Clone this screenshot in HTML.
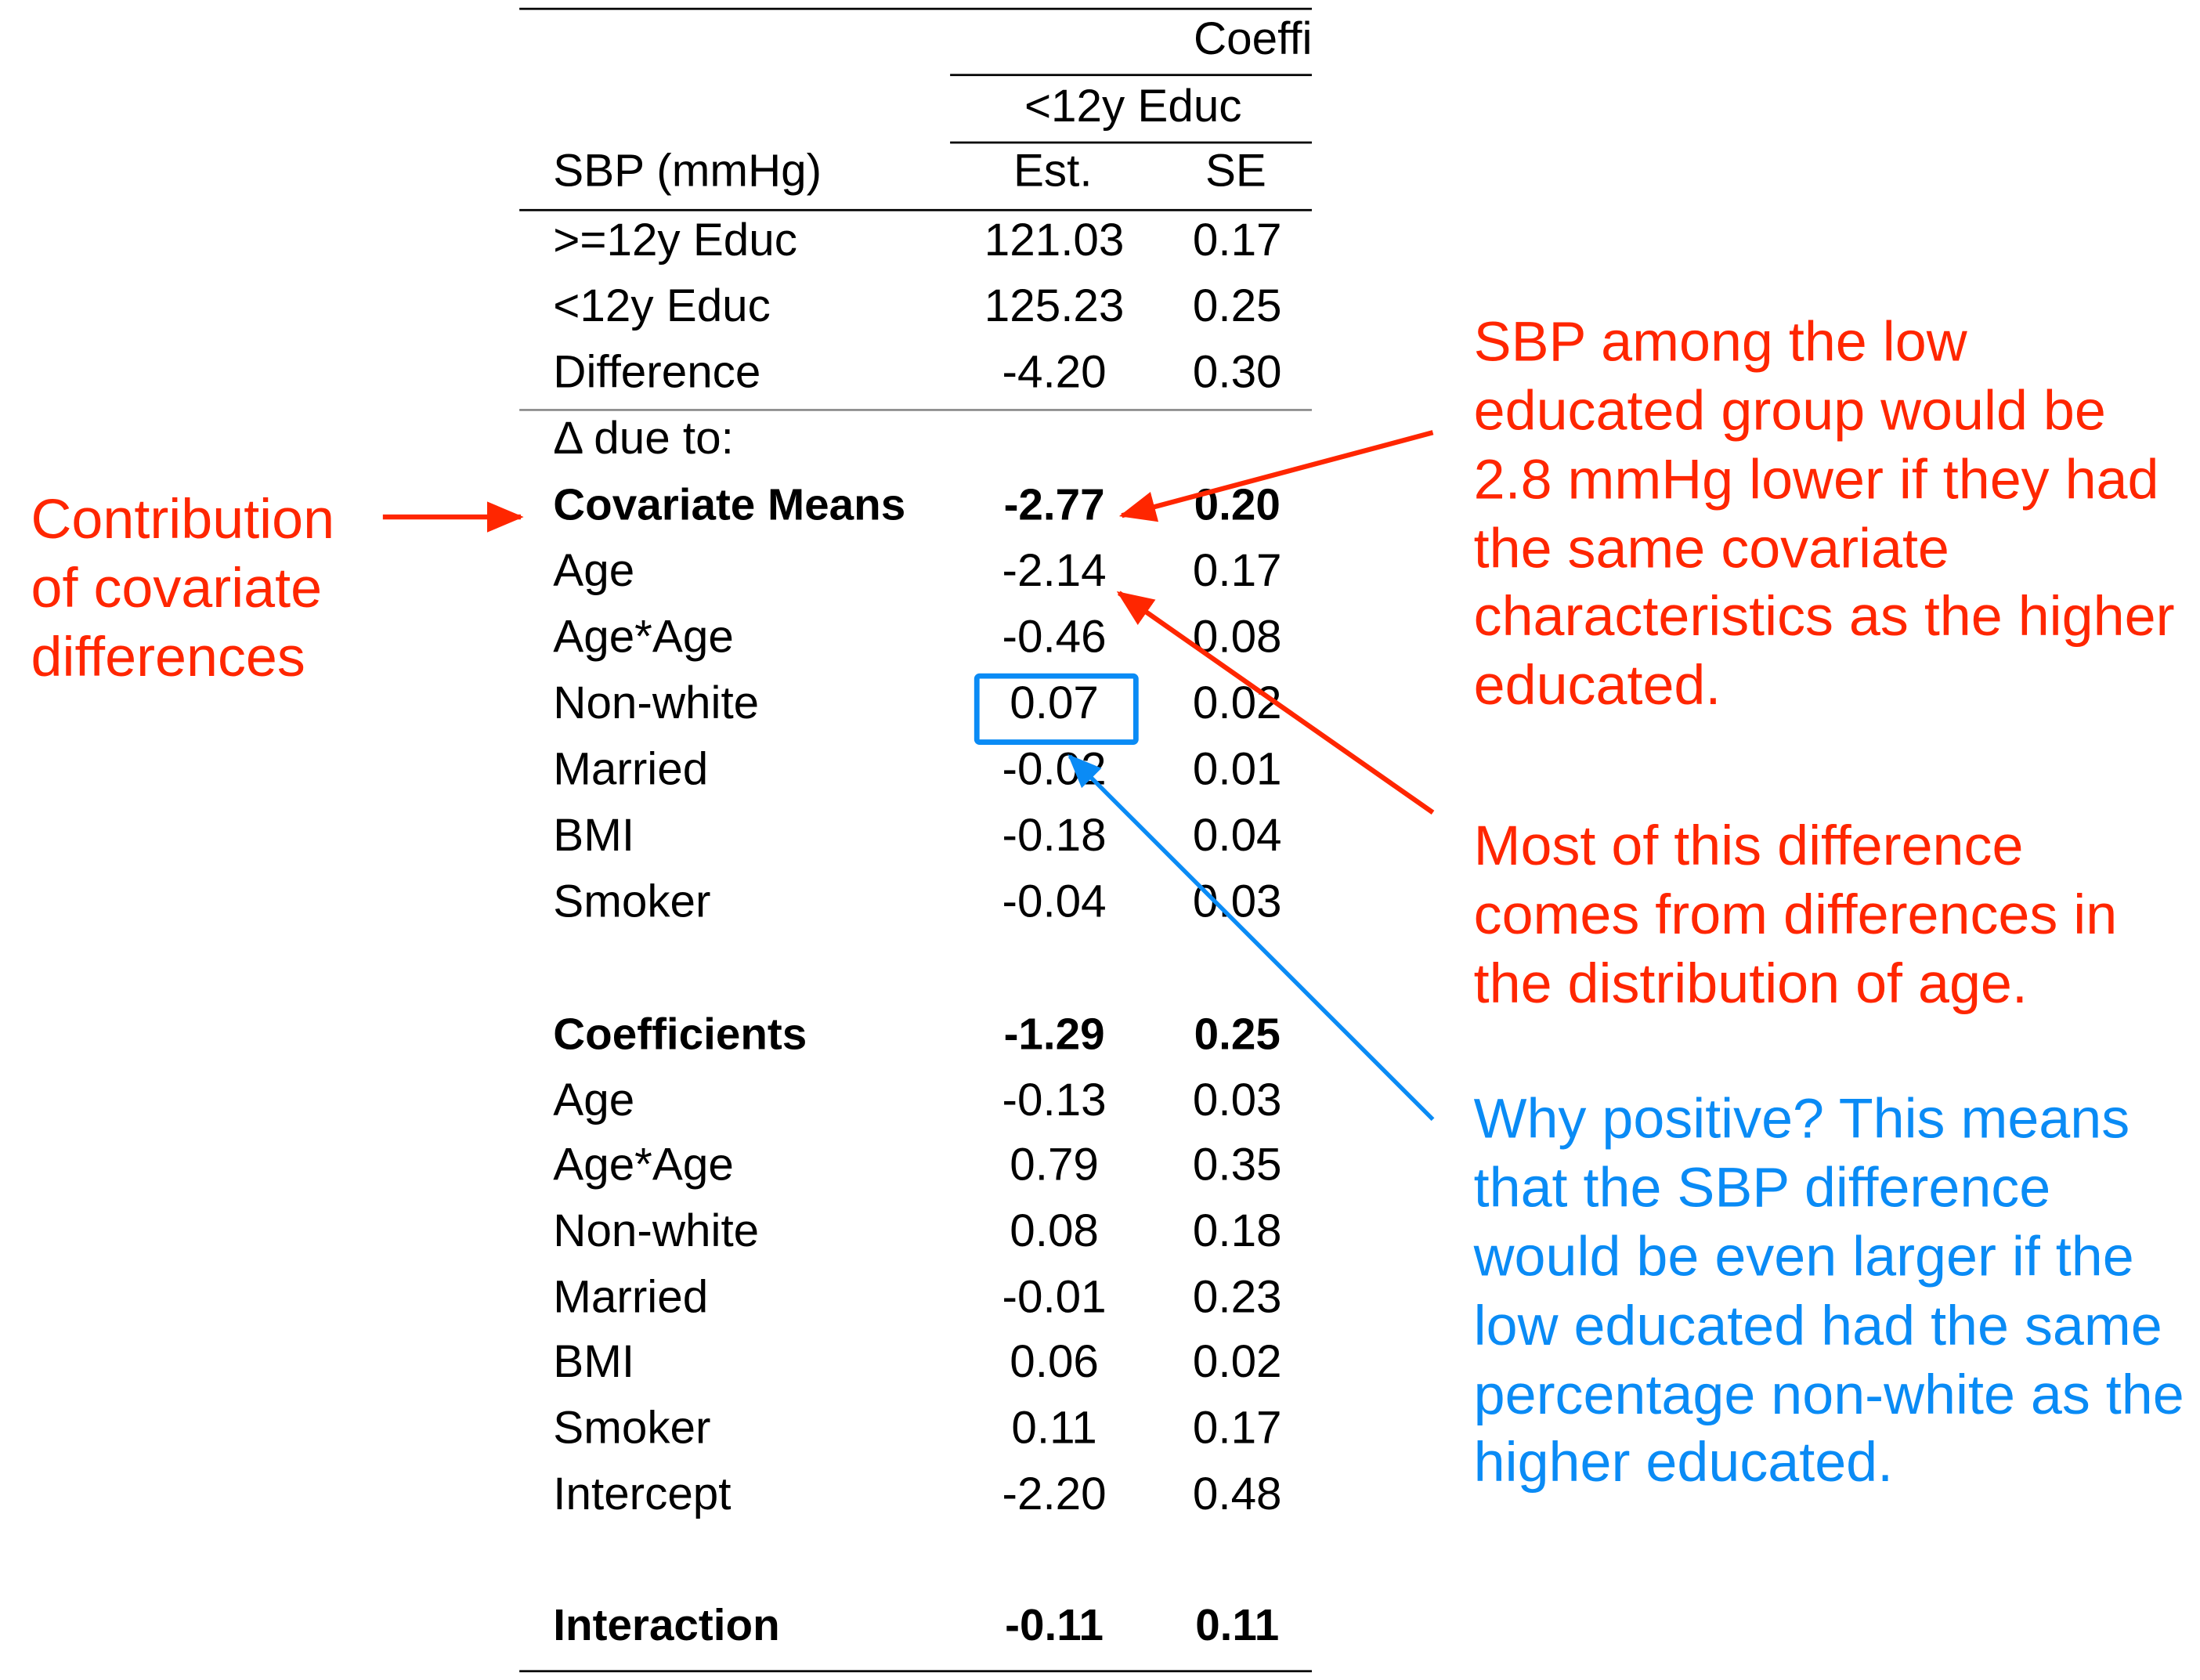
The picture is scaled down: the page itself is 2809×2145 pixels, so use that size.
<!DOCTYPE html>
<html><head><meta charset="utf-8"><style>
html,body{margin:0;padding:0;background:#fff;}
svg{display:block;}
.t{font-family:"Liberation Sans",sans-serif;font-size:32.5px;fill:#000;}
.b{font-weight:bold;font-size:31.5px;}
.r{font-family:"Liberation Sans",sans-serif;font-size:40px;fill:#ff2600;}
.bl{font-family:"Liberation Sans",sans-serif;font-size:40px;fill:#0a8bf5;}
</style></head><body>
<svg id="s" width="2809" height="2145" viewBox="0 0 1563 1193" xmlns="http://www.w3.org/2000/svg">
<defs>
<clipPath id="cl"><rect x="0" y="0" width="932" height="60"/></clipPath>
<marker id="arR" markerWidth="26" markerHeight="22" refX="24" refY="11" orient="auto" markerUnits="userSpaceOnUse"><path d="M0,0 L26,11 L0,22 z" fill="#ff2600"/></marker>
<marker id="arB" markerWidth="24" markerHeight="20" refX="22" refY="10" orient="auto" markerUnits="userSpaceOnUse"><path d="M0,0 L24,10 L0,20 z" fill="#0a8bf5"/></marker>
</defs>
<g stroke="#000" stroke-width="1.5">
<line x1="369" y1="6" x2="932" y2="6"/>
<line x1="675" y1="53" x2="932" y2="53"/>
<line x1="675" y1="101" x2="932" y2="101"/>
<line x1="369" y1="149" x2="932" y2="149"/>
<line x1="369" y1="291" x2="932" y2="291" stroke="#888"/>
<line x1="369" y1="1187" x2="932" y2="1187"/>
</g>
<text class="t" clip-path="url(#cl)" x="848" y="38">Coefficients</text>
<text class="t" x="805" y="86" text-anchor="middle">&lt;12y Educ</text>
<text class="t" x="393" y="132">SBP (mmHg)</text>
<text class="t" x="748" y="132" text-anchor="middle">Est.</text>
<text class="t" x="878" y="132" text-anchor="middle">SE</text>
<g id="rows"></g>
<rect x="694" y="480" width="113" height="47" fill="none" stroke="#0a8bf5" stroke-width="3.8" rx="2"/>
<g>
<text class="r" x="22" y="382">Contribution</text>
<text class="r" x="22" y="431">of covariate</text>
<text class="r" x="22" y="480">differences</text>
</g>
<line x1="272" y1="367" x2="370" y2="367" stroke="#ff2600" stroke-width="3.5" marker-end="url(#arR)"/>
<line x1="1018" y1="307" x2="797" y2="366" stroke="#ff2600" stroke-width="3.5" marker-end="url(#arR)"/>
<line x1="1018" y1="577" x2="795" y2="421" stroke="#ff2600" stroke-width="3.5" marker-end="url(#arR)"/>
<line x1="1018" y1="795" x2="760" y2="537" stroke="#0a8bf5" stroke-width="3" marker-end="url(#arB)"/>
<g>
<text class="r" x="1047" y="256">SBP among the low</text>
<text class="r" x="1047" y="305">educated group would be</text>
<text class="r" x="1047" y="354">2.8 mmHg lower if they had</text>
<text class="r" x="1047" y="403">the same covariate</text>
<text class="r" x="1047" y="451">characteristics as the higher</text>
<text class="r" x="1047" y="500">educated.</text>
</g>
<g>
<text class="r" x="1047" y="614">Most of this difference</text>
<text class="r" x="1047" y="663">comes from differences in</text>
<text class="r" x="1047" y="712">the distribution of age.</text>
</g>
<g>
<text class="bl" x="1047" y="808">Why positive? This means</text>
<text class="bl" x="1047" y="857">that the SBP difference</text>
<text class="bl" x="1047" y="906">would be even larger if the</text>
<text class="bl" x="1047" y="955">low educated had the same</text>
<text class="bl" x="1047" y="1004">percentage non-white as the</text>
<text class="bl" x="1047" y="1052">higher educated.</text>
</g>
</svg>
<script>
const labels=[">=12y Educ","<12y Educ","Difference","Δ due to:","Covariate Means","Age","Age*Age","Non-white","Married","BMI","Smoker","","Coefficients","Age","Age*Age","Non-white","Married","BMI","Smoker","Intercept","","Interaction"];
const est=["121.03","125.23","-4.20","","-2.77","-2.14","-0.46","0.07","-0.02","-0.18","-0.04","","-1.29","-0.13","0.79","0.08","-0.01","0.06","0.11","-2.20","","-0.11"];
const se=["0.17","0.25","0.30","","0.20","0.17","0.08","0.02","0.01","0.04","0.03","","0.25","0.03","0.35","0.18","0.23","0.02","0.17","0.48","","0.11"];
const boldRows=[4,12,21];
const g=document.getElementById('rows');
const NS="http://www.w3.org/2000/svg";
function rowY(i){return 181+47*i-(i>12?Math.round((i-12)*0.3):0);}
function mk(txt,x,y,anchor,bold){
  const t=document.createElementNS(NS,'text');
  t.setAttribute('class','t'+(bold?' b':''));
  t.setAttribute('x',x);t.setAttribute('y',y);
  if(anchor)t.setAttribute('text-anchor',anchor);
  t.textContent=txt;g.appendChild(t);return t;
}
labels.forEach((l,i)=>{
  const y=rowY(i),b=boldRows.includes(i);
  if(l){const a=mk(l,393,y,null,b);
    
    }
  if(est[i]){const e=mk(est[i],749,y,'middle',b);
    
    }
  if(se[i]){const s=mk(se[i],879,y,'middle',b);
    
    }
});
</script>
</body></html>
